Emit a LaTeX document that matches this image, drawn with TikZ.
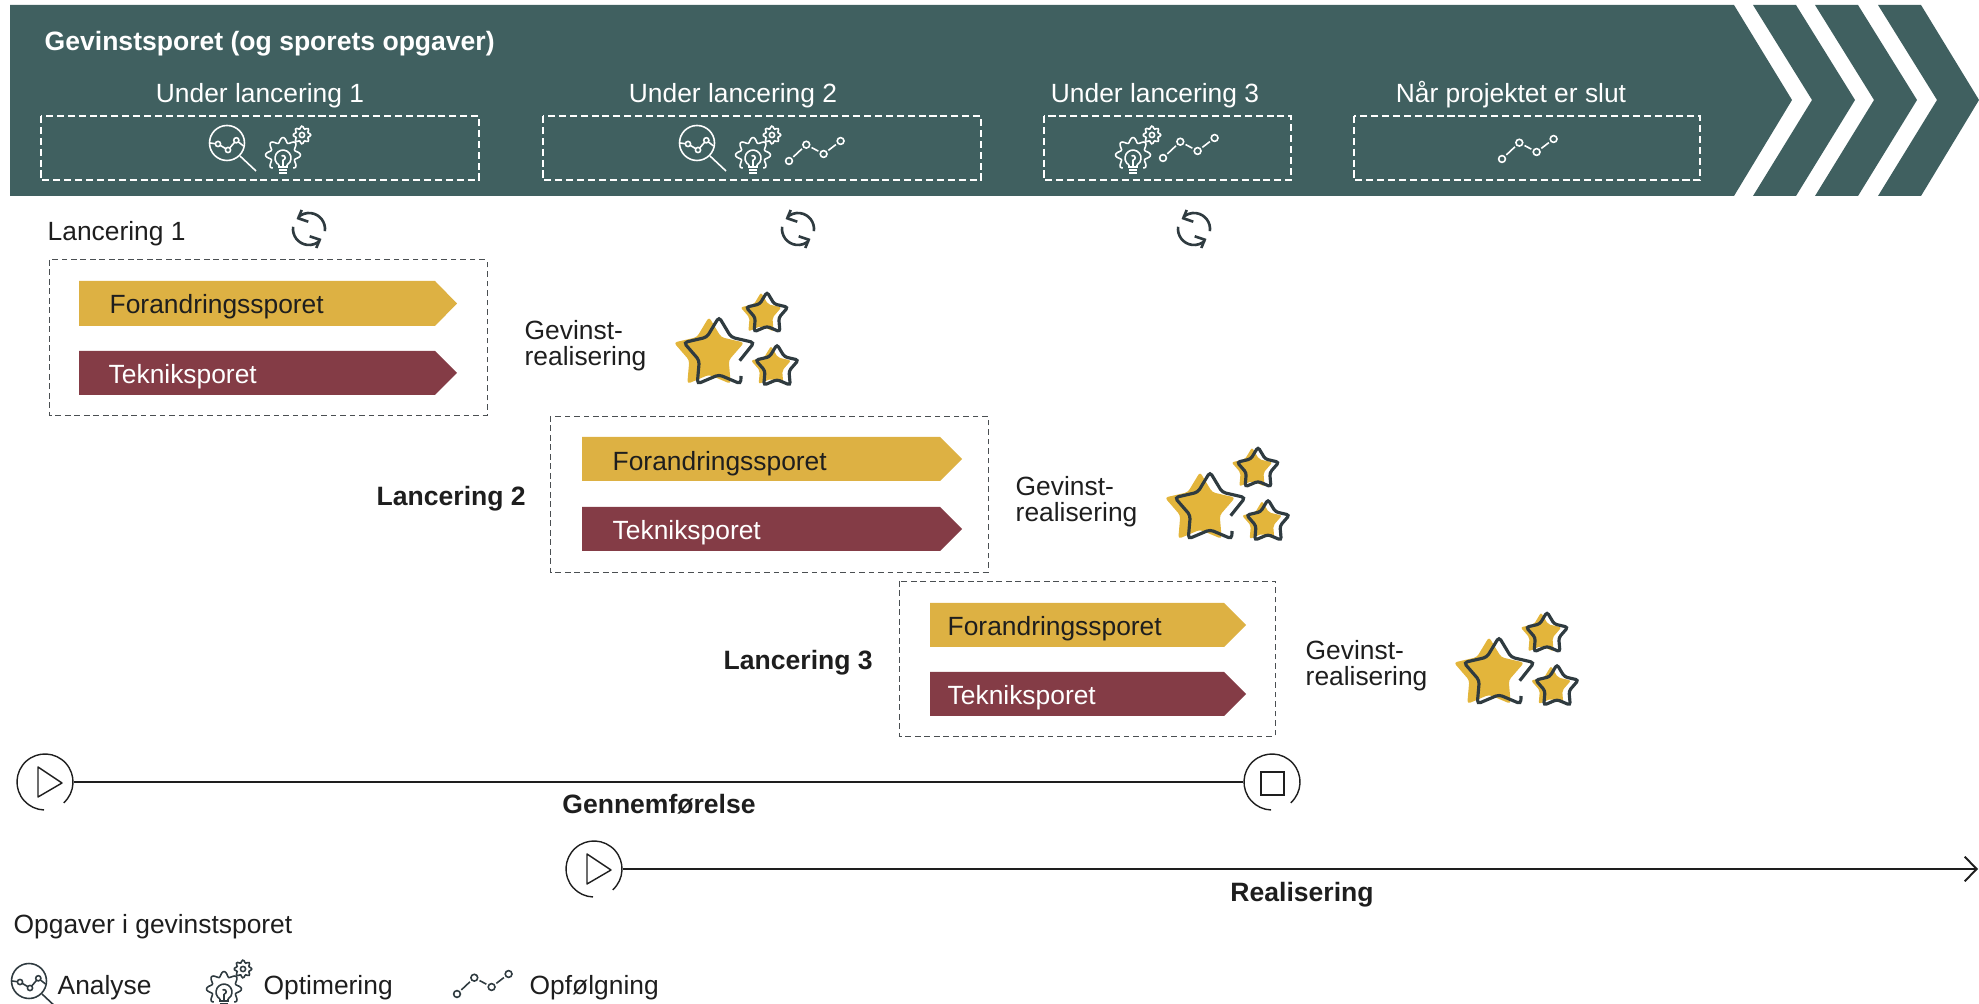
\documentclass[tikz,border=0pt]{standalone}
\usepackage{fontspec}
\setmainfont{Liberation Sans}
\usetikzlibrary{arrows.meta}

\definecolor{bannergreen}{HTML}{406060}
\definecolor{trackgold}{HTML}{DDB143}
\definecolor{trackred}{HTML}{843C46}
\definecolor{stargold}{HTML}{E3B53B}
\definecolor{iconink}{HTML}{2F3B40}
\definecolor{textink}{HTML}{1E1E1E}
\definecolor{dashink}{HTML}{4A4F52}

\newcommand{\starshape}[1]{(90:#1) -- (126:{#1*.56}) -- (162:#1) -- (198:{#1*.56}) -- (234:#1) -- (270:{#1*.56}) -- (306:#1) -- (342:{#1*.56}) -- (18:#1) -- (54:{#1*.56}) -- cycle}

\tikzset{
    lab/.style={font=\fontsize{7.5}{7.3}\selectfont, text=textink, inner sep=0pt, anchor=base west},
    labbold/.style={lab, font=\fontsize{7.55}{7.3}\selectfont\bfseries},
    bannerlab/.style={lab, text=white, anchor=base},
    tracktext/.style={lab},
    gevinstlab/.style={lab, align=left, anchor=north west},
    dashbox/.style={draw=dashink, line width=.28pt, dash pattern=on 1.6pt off 1.1pt},
    bannerbox/.style={draw=white, line width=.33pt, dash pattern=on 2pt off 1.1pt},
    btn/.style={circle, minimum size=.56cm, inner sep=0pt},
    btnline/.style={textink, line width=.4pt},
    analyseicon/.pic={
        \draw[line width=.45pt] (0,0) circle (17.5);
        \coordinate (p1) at (-17,0);
        \coordinate (p2) at (-9,-1);
        \coordinate (p3) at (1,-7);
        \coordinate (p4) at (9.3,2.7);
        \coordinate (p5) at (16.5,-3);
        \draw[line width=.45pt] (p2) circle (2.6) (p3) circle (2.6) (p4) circle (2.6);
        \draw[line width=.45pt, shorten >=.75pt] (p1) -- (p2);
        \draw[line width=.45pt, shorten >=.75pt, shorten <=.75pt] (p2) -- (p3);
        \draw[line width=.45pt, shorten >=.75pt, shorten <=.75pt] (p3) -- (p4);
        \draw[line width=.45pt, shorten <=.75pt] (p4) -- (p5);
        \draw[line width=.45pt] (13,-13) -- (29,-28);
    },
    gearicon/.pic={
        \draw[line width=.45pt] plot[smooth, samples=70, domain=-52:232] (\x:{15+2.5*cos(8*\x)});
        \draw[line width=.45pt] plot[smooth, samples=40, domain=0:360] ([shift={(19,20)}]\x:{7.6+1.3*cos(8*\x)});
        \draw[line width=.45pt] (19,20) circle (2.6);
        \draw[line width=.45pt] (-4,-10) arc (240:-60:8);
        \draw[line width=.45pt] (-4,-10) -- (-4,-12) -- (4,-12) -- (4,-10);
        \draw[line width=.45pt] (-4,-15) -- (4,-15) (-4,-18) -- (4,-18);
        \draw[line width=.45pt] (0,-12) -- (0,-5) (0,-5) arc (-90:130:2.2);
    },
    trailicon/.pic={
        \coordinate (p1) at (0,0);
        \coordinate (p2) at (17.3,16.3);
        \coordinate (p3) at (34.6,7);
        \coordinate (p4) at (51.6,20);
        \draw[line width=.45pt] (p1) circle (3.4) (p2) circle (3.4) (p3) circle (3.4) (p4) circle (3.4);
        \draw[line width=.45pt, shorten >=1.7pt, shorten <=1.7pt] (p1) -- (p2);
        \draw[line width=.45pt, shorten >=1.7pt, shorten <=1.7pt] (p2) -- (p3);
        \draw[line width=.45pt, shorten >=1.7pt, shorten <=1.7pt] (p3) -- (p4);
    },
    loopicon/.pic={
        \draw[line width=.75pt, iconink] (-8:16) arc (-8:132:16);
        \draw[line width=.75pt, iconink] (-7.3,19) -- (-10.7,10.7) -- (-.7,7.3);
        \draw[line width=.75pt, iconink] (172:16) arc (172:312:16);
        \draw[line width=.75pt, iconink] (7.3,-19) -- (10.7,-10.7) -- (.7,-7.3);
    },
    starsicon/.pic={
        \fill[stargold, rounded corners=.9pt, shift={(-10,0)}] \starshape{37};
        \fill[stargold, rounded corners=.6pt, shift={(42,40)}] \starshape{21.5};
        \fill[stargold, rounded corners=.6pt, shift={(52,-13)}] \starshape{21};
        \draw[iconink, line width=.9pt, rounded corners=1pt] (20.7,-6.7) -- (18:37) -- (54:{37*.56}) -- (90:37) -- (126:{37*.56}) -- (162:37) -- (198:{37*.56}) -- (234:37) -- (270:{37*.56}) -- (306:37) -- (22,-22);
        \draw[iconink, line width=.9pt, rounded corners=.8pt, shift={(48,40)}] \starshape{22};
        \draw[iconink, line width=.9pt, rounded corners=.8pt, shift={(58,-13)}] \starshape{22.5};
    },
    x=.01cm, y=.01cm
}

\begin{document}
\begin{tikzpicture}
    \useasboundingbox (0,0) rectangle (1979,-1004);

    % banner with chevrons
    \fill[bannergreen] (10,-5) -- (1734,-5) -- (1792,-100) -- (1734,-196) -- (10,-196) -- cycle;
    \fill[bannergreen] (1753,-5) -- (1796,-5) -- (1855,-100) -- (1796,-196) -- (1753,-196) -- (1812,-100) -- cycle;
    \fill[bannergreen] (1815,-5) -- (1858,-5) -- (1917,-100) -- (1858,-196) -- (1815,-196) -- (1874,-100) -- cycle;
    \fill[bannergreen] (1878,-5) -- (1921,-5) -- (1979,-100) -- (1921,-196) -- (1878,-196) -- (1937,-100) -- cycle;

    \node[labbold, text=white] (bannertitle) at (44,-51) {Gevinstsporet (og sporets opgaver)};
    \node[bannerlab] (underA) at (260,-103) {Under lancering 1};
    \node[bannerlab] (underB) at (733,-103) {Under lancering 2};
    \node[bannerlab] (underC) at (1155,-103) {Under lancering 3};
    \node[bannerlab] (underD) at (1511,-103) {Når projektet er slut};

    \draw[bannerbox] (41,-116) rectangle (479,-180);
    \draw[bannerbox] (543,-116) rectangle (981,-180);
    \draw[bannerbox] (1044,-116) rectangle (1291,-180);
    \draw[bannerbox] (1354,-116) rectangle (1700,-180);

    \pic[color=white] at (227,-143) {analyseicon};
    \pic[color=white] at (283,-155) {gearicon};
    \pic[color=white] at (697,-143) {analyseicon};
    \pic[color=white] at (753,-155) {gearicon};
    \pic[color=white] at (789,-161) {trailicon};
    \pic[color=white] at (1133,-155) {gearicon};
    \pic[color=white] at (1163,-158) {trailicon};
    \pic[color=white] at (1502,-159) {trailicon};

    \pic at (309,-229) {loopicon};
    \pic at (798,-229) {loopicon};
    \pic at (1194,-229) {loopicon};

    % lancering 1
    \node[lab] (lancA) at (47,-241) {Lancering 1};
    \draw[dashbox] (49,-260) rectangle (487,-415);
    \fill[trackgold] (79,-281) -- (435,-281) -- (457,-303.5) -- (435,-326) -- (79,-326) -- cycle;
    \fill[trackred] (79,-351) -- (435,-351) -- (457,-373) -- (435,-395) -- (79,-395) -- cycle;
    \node[tracktext] (forA) at (109,-314) {Forandringssporet};
    \node[tracktext, text=white] (tekA) at (108,-384) {Tekniksporet};
    \node[gevinstlab] (gevA) at (524,-320) {Gevinst-\\realisering};
    \pic at (719,-354) {starsicon};

    % lancering 2
    \node[labbold] (lancB) at (376,-506) {Lancering 2};
    \draw[dashbox] (550,-416) rectangle (988,-572);
    \fill[trackgold] (582,-437) -- (940,-437) -- (962,-459) -- (940,-481) -- (582,-481) -- cycle;
    \fill[trackred] (582,-507) -- (940,-507) -- (962,-529) -- (940,-551) -- (582,-551) -- cycle;
    \node[tracktext] (forB) at (612,-471) {Forandringssporet};
    \node[tracktext, text=white] (tekB) at (612,-540) {Tekniksporet};
    \node[gevinstlab] (gevB) at (1015,-476) {Gevinst-\\realisering};
    \pic at (1210,-509) {starsicon};

    % lancering 3
    \node[labbold] (lancC) at (723,-670) {Lancering 3};
    \draw[dashbox] (899,-581) rectangle (1275,-736);
    \fill[trackgold] (930,-603) -- (1224,-603) -- (1246,-625) -- (1224,-647) -- (930,-647) -- cycle;
    \fill[trackred] (930,-672) -- (1224,-672) -- (1246,-694) -- (1224,-716) -- (930,-716) -- cycle;
    \node[tracktext] (forC) at (947,-636) {Forandringssporet};
    \node[tracktext, text=white] (tekC) at (947,-705) {Tekniksporet};
    \node[gevinstlab] (gevC) at (1305,-640) {Gevinst-\\realisering};
    \pic at (1499,-674) {starsicon};

    % time lines
    \node[btn] (playA) at (45,-782) {};
    \node[btn] (stopA) at (1272,-782) {};
    \node[btn] (playB) at (594,-869) {};
    \coordinate (realend) at (1978,-869);

    \draw[btnline] (playA.east) -- (stopA.west);
    \draw[textink, line width=.55pt, -{Straight Barb[length=3.4pt,width=7pt]}] (playB.east) -- (realend);

    \draw[btnline] (playA) ++(-48:28) arc (-48:268:28);
    \draw[btnline, line join=round] (38,-767) -- (62,-783) -- (38,-797) -- cycle;
    \draw[btnline] (stopA) ++(-48:28) arc (-48:268:28);
    \draw[btnline] (1261,-772) rectangle (1284,-795);
    \draw[btnline] (playB) ++(-48:28) arc (-48:268:28);
    \draw[btnline, line join=round] (587,-854) -- (611,-870) -- (587,-884) -- cycle;

    \node[labbold, anchor=base] (gennem) at (659,-814) {Gennemførelse};
    \node[labbold, anchor=base] (realis) at (1302,-902) {Realisering};

    % legend
    \node[lab] (opgaver) at (13,-933) {Opgaver i gevinstsporet};
    \pic[color=iconink] at (29,-981) {analyseicon};
    \node[lab] (analyse) at (57,-994) {Analyse};
    \pic[color=iconink] at (224,-989) {gearicon};
    \node[lab] (optimering) at (263,-994) {Optimering};
    \pic[color=iconink] at (457,-994) {trailicon};
    \node[lab] (opfolgning) at (529,-994) {Opfølgning};
\end{tikzpicture}
\end{document}
